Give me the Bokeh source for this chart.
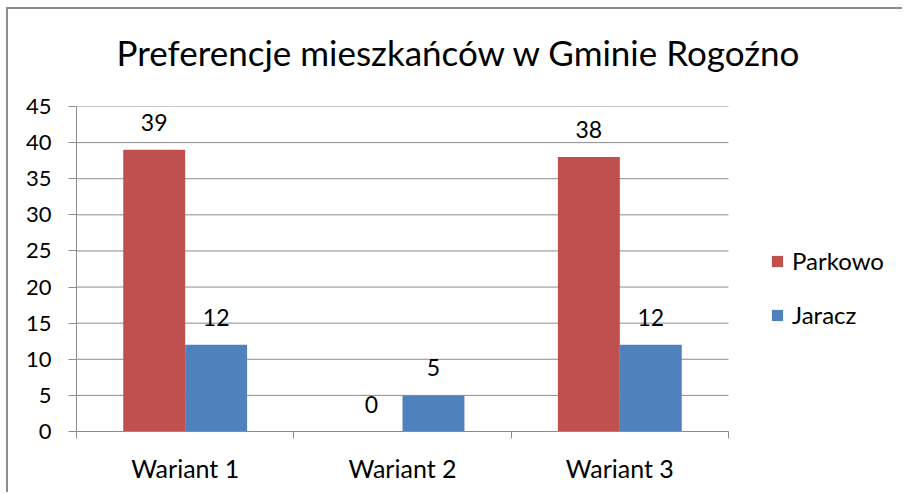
from bokeh.plotting import figure
from bokeh.models import ColumnDataSource, FixedTicker, Range1d, Legend, LegendItem, Title
from bokeh.transform import dodge
from bokeh.embed import file_html
from bokeh.resources import INLINE
from bokeh.core.properties import value

categories = ["Wariant 1", "Wariant 2", "Wariant 3"]
parkowo = [39, 0, 38]
jaracz = [12, 5, 12]
y_ticks = [0, 5, 10, 15, 20, 25, 30, 35, 40, 45]
title = "Preferencje mieszkańców w Gminie Rogoźno"

FONT = "Lato"
GRAY = "#8c8c8c"
RED = "#C0504D"
BLUE = "#4F81BD"

W, H = 896, 485
BL, BR, BT, BB = 68, 8, 97, 63
CAT_PX = 652  # pixel width of the category area
frame_w = W - BL - BR
n = len(categories)
x_end = n * frame_w / CAT_PX

xc = [i + 0.5 for i in range(n)]
src = ColumnDataSource(dict(x=xc, cat=categories, parkowo=parkowo, jaracz=jaracz,
                            pl=[str(v) for v in parkowo], jl=[str(v) for v in jaracz]))

p = figure(width=W, height=H, output_backend="svg", toolbar_location=None,
           x_range=Range1d(0, x_end), y_range=Range1d(0, max(y_ticks)),
           min_border_left=BL, min_border_right=BR, min_border_top=BT, min_border_bottom=BB)
p.title.text = title
p.title.text_font = FONT
p.title.text_font_size = "35px"
p.title.text_font_style = "normal"
p.title.align = "left"
p.title.offset = 40
p.title.standoff = 30
p.title.text_color = "#000000"
# spacer between title and plot area
spacer = Title(text=" ", text_font_size="16px", standoff=0)
p.above = [spacer] + list(p.above)

p.outline_line_color = None
p.background_fill_color = "white"
p.border_fill_color = "white"

# horizontal gridlines limited to the category area
p.segment(x0=[0] * len(y_ticks), x1=[n] * len(y_ticks), y0=y_ticks, y1=y_ticks,
          line_color=GRAY, line_width=1)

bw = 0.285
rp = p.vbar(x=dodge("x", -bw / 2, range=p.x_range), top="parkowo", width=bw, source=src,
            fill_color=RED, line_color=None)
rj = p.vbar(x=dodge("x", bw / 2, range=p.x_range), top="jaracz", width=bw, source=src,
            fill_color=BLUE, line_color=None)

p.text(x=dodge("x", -bw / 2, range=p.x_range), y="parkowo", text="pl", source=src,
       text_align="center", text_baseline="bottom", y_offset=-19,
       text_font=value(FONT), text_font_size="23px", text_color="#000000")
p.text(x=dodge("x", bw / 2, range=p.x_range), y="jaracz", text="jl", source=src,
       text_align="center", text_baseline="bottom", y_offset=-19,
       text_font=value(FONT), text_font_size="23px", text_color="#000000")

# axes
p.xaxis.ticker = FixedTicker(ticks=xc, minor_ticks=list(range(n + 1)))
p.xaxis.major_label_overrides = {x: c for x, c in zip(xc, categories)}
p.xaxis.bounds = (0, n)
p.xaxis.major_tick_line_color = None
p.xaxis.minor_tick_line_color = GRAY
p.xaxis.minor_tick_out = 7
p.xaxis.minor_tick_in = 0
p.xaxis.axis_line_color = GRAY
p.xaxis.major_label_standoff = 14
p.xaxis.major_label_text_font = FONT
p.xaxis.major_label_text_font_size = "25px"
p.xaxis.major_label_text_color = "#000000"

p.yaxis.ticker = FixedTicker(ticks=y_ticks)
p.yaxis.minor_tick_line_color = None
p.yaxis.major_tick_line_color = GRAY
p.yaxis.major_tick_out = 8
p.yaxis.major_tick_in = 0
p.yaxis.axis_line_color = GRAY
p.yaxis.major_label_standoff = 17
p.yaxis.major_label_text_font = FONT
p.yaxis.major_label_text_font_size = "22px"
p.yaxis.major_label_text_color = "#000000"

p.xgrid.grid_line_color = None
p.ygrid.grid_line_color = None

legend = Legend(items=[LegendItem(label="Parkowo", renderers=[rp]),
                       LegendItem(label="Jaracz", renderers=[rj])],
                location=(694, 102), orientation="vertical",
                glyph_width=14, glyph_height=14, label_height=24, spacing=25,
                label_standoff=8, padding=0, margin=0,
                label_text_font=FONT, label_text_font_size="24px",
                label_text_color="#000000",
                border_line_color=None, background_fill_alpha=0)
p.add_layout(legend, "center")

p.styles = {"margin-left": "6px", "margin-top": "7px",
            "border-left": "2px solid #8c8c8c", "border-top": "2px solid #8c8c8c"}

open("out.html", "w").write(file_html(p, INLINE))
